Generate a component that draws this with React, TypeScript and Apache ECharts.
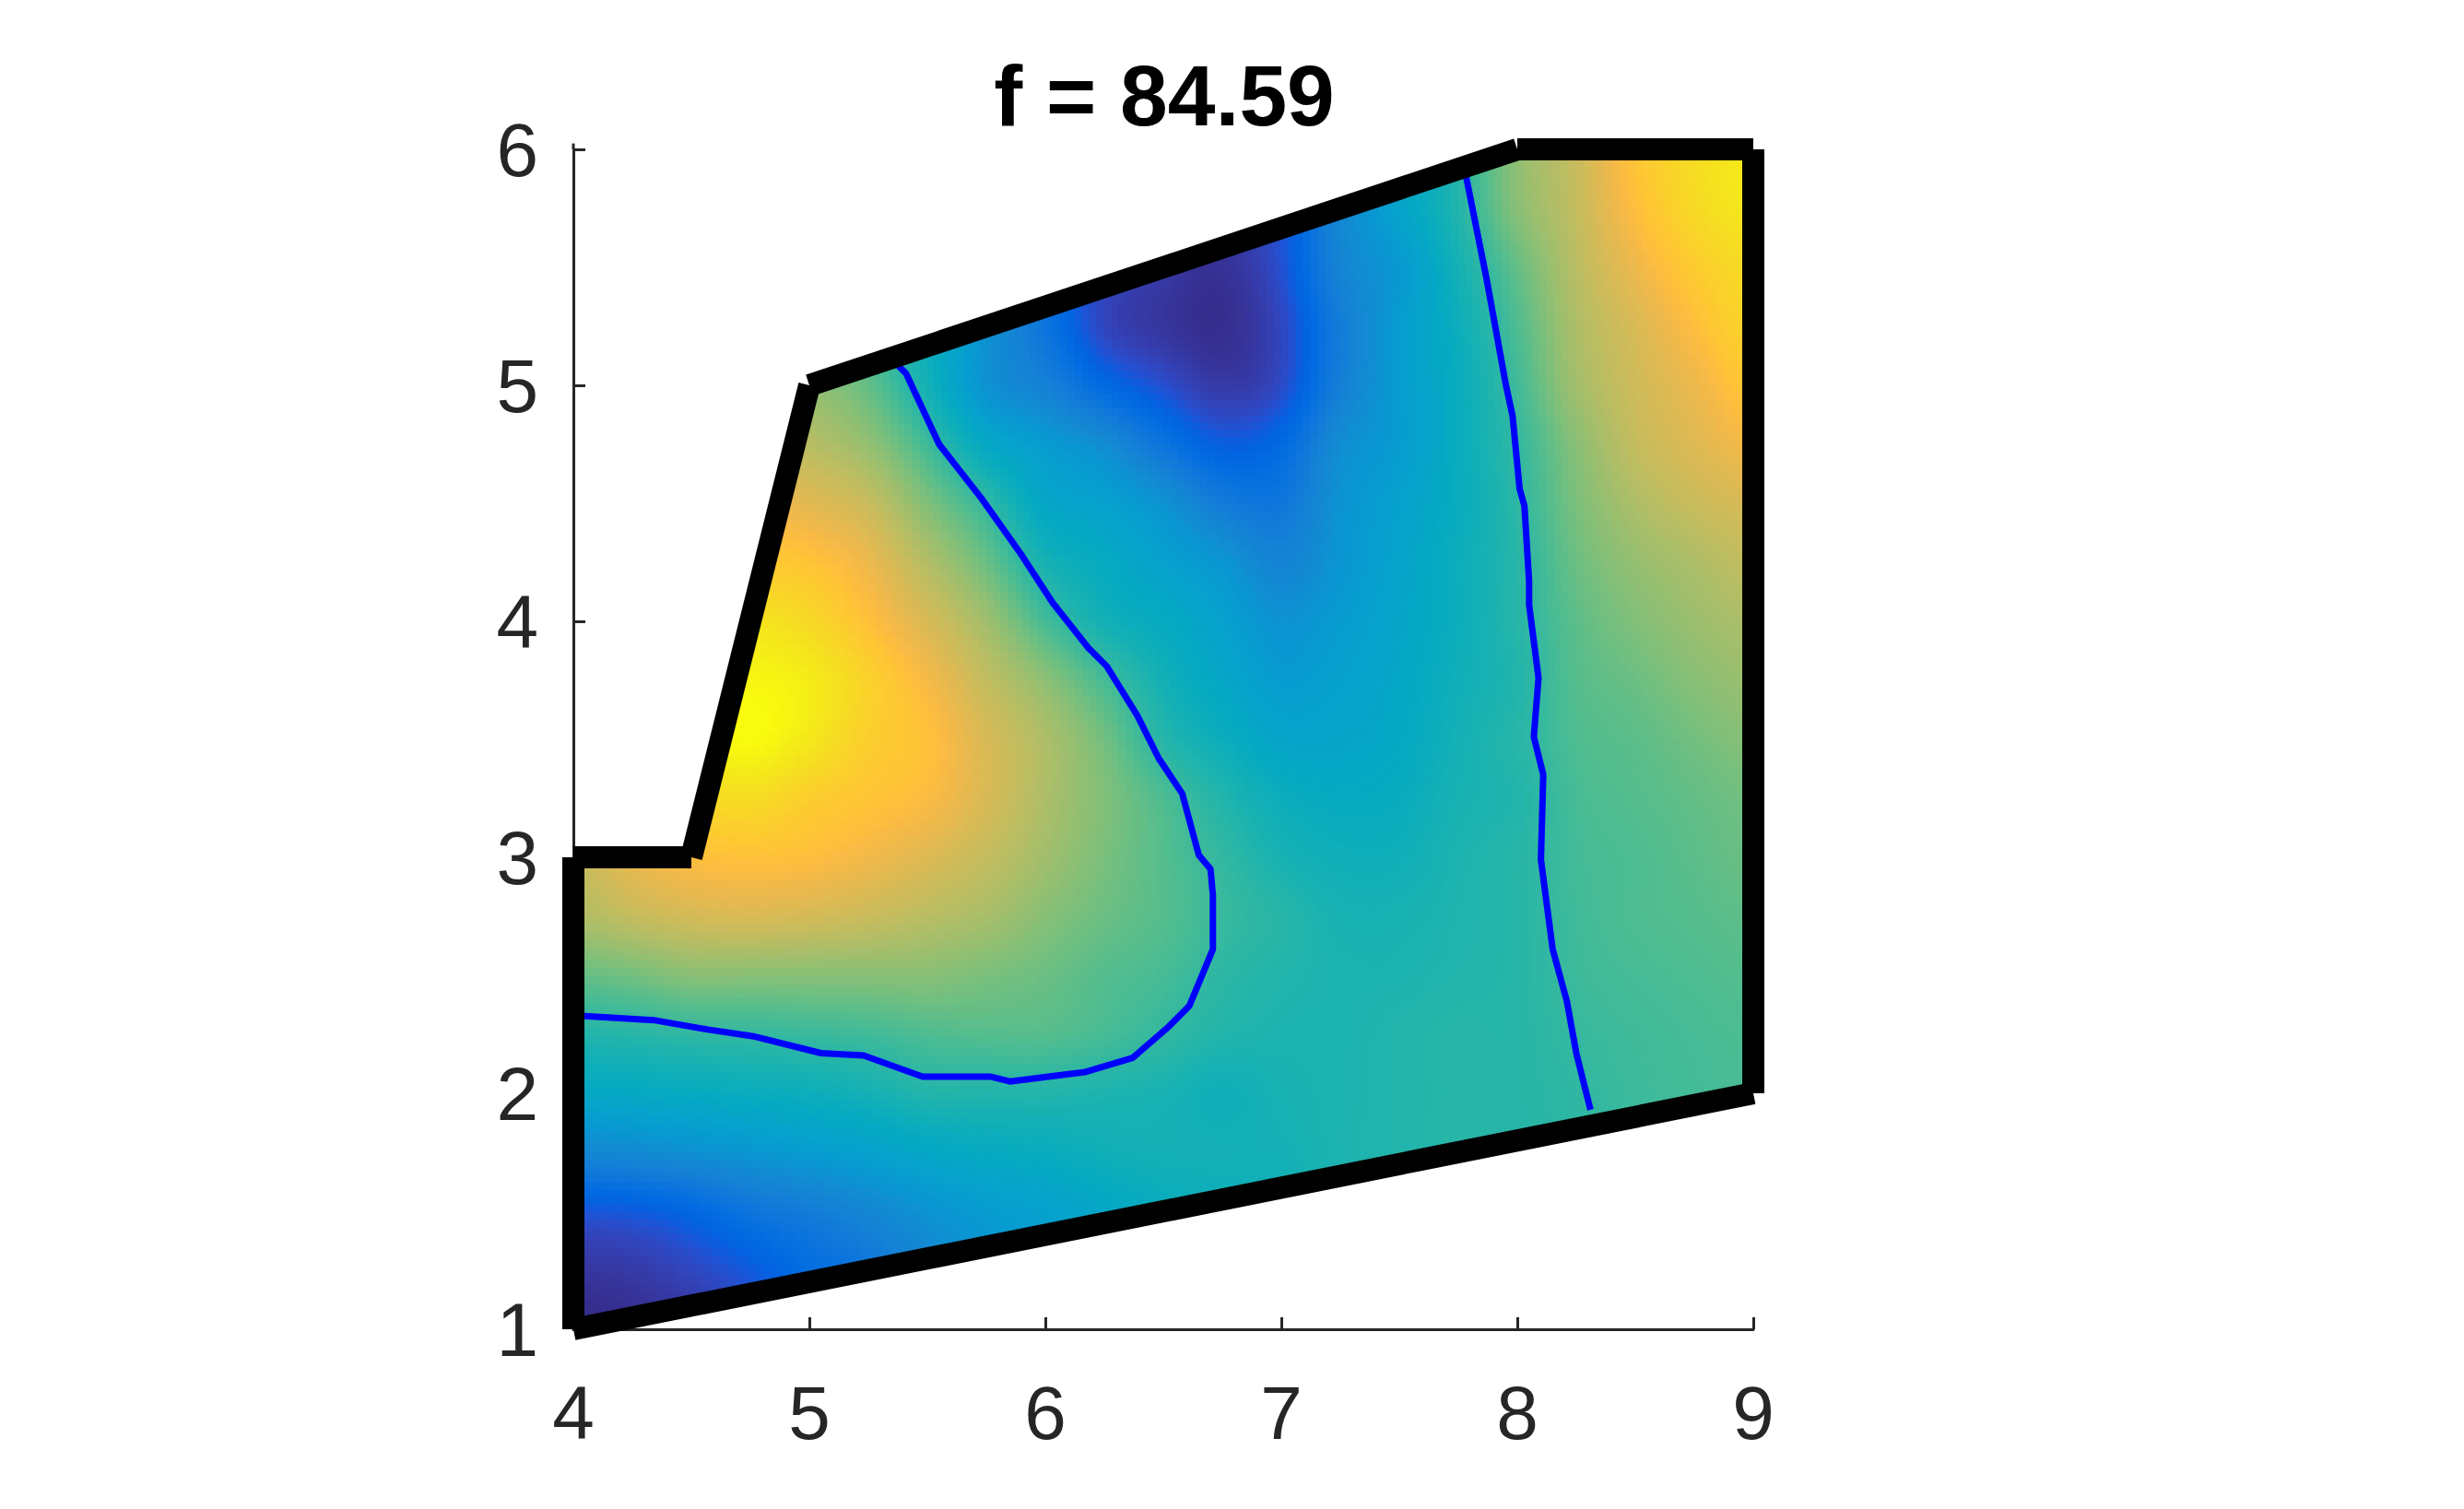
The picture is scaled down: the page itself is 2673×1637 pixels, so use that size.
import React, { useEffect, useRef } from "react";
import * as echarts from "echarts";

const xTicks = [4, 5, 6, 7, 8, 9];
const yTicks = [1, 2, 3, 4, 5, 6];
const titleText = "f = 84.59";
const gridX = [4, 4.25, 4.5, 4.75, 5, 5.25, 5.5, 5.75, 6, 6.25, 6.5, 6.75, 7, 7.25, 7.5, 7.75, 8, 8.25, 8.5, 8.75, 9];
// rows from y = 1 (first) to y = 6 (last), step 0.25; field position on the colour scale
const fieldRows = [
  [0,.01,.03,.08,.14,.2,.26,.31,.33,.36,.39,.41,.42,.43,.45,.46,.47,.48,.49,.5,.52],
  [.03,.04,.07,.11,.16,.2,.26,.31,.33,.36,.39,.41,.42,.43,.45,.46,.47,.48,.49,.5,.52],
  [.1,.11,.14,.19,.22,.26,.3,.33,.35,.38,.41,.42,.43,.45,.46,.47,.48,.49,.5,.51,.52],
  [.26,.27,.29,.31,.33,.35,.38,.4,.41,.43,.44,.44,.44,.46,.47,.48,.48,.49,.5,.51,.52],
  [.38,.39,.4,.41,.42,.44,.47,.47,.47,.46,.45,.43,.45,.46,.47,.48,.48,.495,.515,.525,.535],
  [.47,.48,.495,.5,.51,.52,.54,.55,.55,.53,.5,.47,.46,.46,.47,.48,.48,.505,.52,.53,.54],
  [.57,.59,.62,.62,.62,.62,.62,.6,.58,.55,.53,.49,.47,.46,.46,.47,.48,.515,.53,.54,.55],
  [.68,.72,.75,.76,.75,.73,.7,.67,.62,.58,.55,.51,.48,.45,.45,.465,.48,.52,.54,.55,.565],
  [.73,.8,.84,.85,.84,.81,.77,.72,.66,.6,.55,.5,.45,.43,.43,.46,.48,.525,.54,.56,.58],
  [.85,.9,.92,.93,.89,.86,.83,.76,.68,.61,.54,.47,.42,.4,.41,.45,.47,.53,.55,.57,.59],
  [.9,.93,.97,1,.96,.89,.85,.76,.68,.59,.48,.42,.37,.37,.39,.44,.48,.54,.56,.59,.62],
  [.9,.93,.97,.99,.97,.9,.82,.72,.63,.53,.44,.38,.33,.35,.38,.43,.47,.55,.58,.62,.65],
  [.9,.9,.93,.95,.92,.85,.76,.66,.53,.44,.4,.35,.3,.33,.37,.42,.48,.56,.61,.65,.68],
  [.9,.9,.9,.88,.86,.8,.69,.58,.45,.4,.35,.31,.25,.31,.36,.42,.48,.58,.64,.68,.72],
  [.85,.85,.85,.82,.78,.73,.61,.5,.38,.35,.3,.22,.2,.3,.35,.41,.49,.6,.68,.73,.76],
  [.8,.8,.78,.74,.7,.64,.52,.39,.33,.28,.19,.12,.15,.28,.33,.41,.5,.62,.72,.77,.82],
  [.75,.75,.72,.68,.64,.57,.44,.3,.24,.15,.09,.04,.08,.23,.33,.41,.52,.66,.74,.8,.87],
  [.7,.7,.7,.68,.62,.52,.42,.3,.19,.07,.03,.01,.07,.22,.33,.42,.54,.68,.76,.84,.91],
  [.7,.7,.7,.68,.6,.5,.4,.3,.18,.08,.04,.02,.09,.25,.32,.44,.57,.7,.8,.88,.93],
  [.7,.7,.7,.68,.6,.5,.4,.3,.2,.1,.05,.05,.1,.26,.36,.47,.62,.72,.84,.92,.96],
  [.7,.7,.7,.68,.6,.5,.4,.3,.2,.1,.05,.05,.1,.25,.35,.47,.63,.73,.86,.93,.97],
];
const gridY = [1, 1.25, 1.5, 1.75, 2, 2.25, 2.5, 2.75, 3, 3.25, 3.5, 3.75, 4, 4.25, 4.5, 4.75, 5, 5.25, 5.5, 5.75, 6];
const boundary = [[4, 1], [9, 2], [9, 6], [8, 6], [5, 5], [4.5, 3], [4, 3]];
const contourLeft = [[4,2.33],[4.34,2.31],[4.57,2.27],[4.77,2.24],[5.05,2.17],[5.23,2.16],[5.48,2.07],[5.77,2.07],[5.85,2.05],[6.09,2.08],[6.17,2.09],[6.37,2.15],[6.52,2.28],[6.61,2.37],[6.71,2.61],[6.71,2.84],[6.7,2.95],[6.65,3.01],[6.58,3.27],[6.48,3.42],[6.39,3.6],[6.26,3.81],[6.18,3.89],[6.03,4.08],[5.9,4.28],[5.73,4.52],[5.55,4.75],[5.41,5.05],[5.36,5.1]];
const contourRight = [[7.78,5.9],[7.87,5.45],[7.95,5.01],[7.98,4.87],[8.01,4.56],[8.03,4.49],[8.05,4.17],[8.05,4.07],[8.09,3.76],[8.07,3.51],[8.11,3.35],[8.1,2.99],[8.15,2.61],[8.21,2.39],[8.25,2.17],[8.31,1.93]];
const parula = [[.2081,.1663,.5292],[.2116,.1898,.5777],[.2123,.2138,.627],[.2081,.2386,.6771],[.1959,.2645,.7279],[.1707,.2919,.7792],[.1253,.3242,.8303],[.0591,.3598,.8683],[.0117,.3875,.882],[.006,.4086,.8828],[.0165,.4266,.8786],[.0329,.443,.872],[.0498,.4586,.8641],[.0629,.4737,.8554],[.0723,.4887,.8467],[.0779,.504,.8384],[.0793,.52,.8312],[.0749,.5375,.8263],[.0641,.557,.824],[.0488,.5772,.8228],[.0343,.5966,.8199],[.0265,.6137,.8135],[.0239,.6287,.8038],[.0231,.6418,.7913],[.0228,.6535,.7768],[.0267,.6642,.7607],[.0384,.6743,.7436],[.059,.6838,.7254],[.0843,.6928,.7062],[.1133,.7015,.6859],[.1453,.7098,.6646],[.1801,.7177,.6424],[.2178,.725,.6193],[.2586,.7317,.5954],[.3022,.7376,.5712],[.3482,.7424,.5473],[.3953,.7459,.5244],[.442,.7481,.5033],[.4871,.7491,.484],[.53,.7491,.4661],[.5709,.7485,.4494],[.6099,.7473,.4337],[.6473,.7456,.4188],[.6834,.7435,.4044],[.7184,.7411,.3905],[.7525,.7384,.3768],[.7858,.7356,.3633],[.8185,.7327,.3498],[.8507,.7299,.336],[.8824,.7274,.3217],[.9139,.7258,.3063],[.945,.7261,.2886],[.9739,.7314,.2666],[.9938,.7455,.2403],[.999,.7653,.2164],[.9955,.7861,.1967],[.988,.8066,.1794],[.9789,.8271,.1633],[.9697,.8481,.1475],[.9626,.8705,.1309],[.9589,.8949,.1132],[.9598,.9218,.0948],[.9661,.9514,.0755],[.9763,.9831,.0538]];

const SUB = 8;
const clipParts = [
  [boundary[0], boundary[1], boundary[2], boundary[3], boundary[4], boundary[5]],
  [boundary[0], boundary[5], boundary[6]],
];

function colorAt(v: number) {
  const t = Math.max(0, Math.min(1, v)) * (parula.length - 1);
  const i = Math.min(parula.length - 2, Math.floor(t));
  const f = t - i;
  const c = parula[i].map((a, k) => Math.round((a + (parula[i + 1][k] - a) * f) * 255));
  return `rgb(${c[0]},${c[1]},${c[2]})`;
}
function cr(p0: number, p1: number, p2: number, p3: number, t: number) {
  return 0.5 * (2 * p1 + (p2 - p0) * t + (2 * p0 - 5 * p1 + 4 * p2 - p3) * t * t + (3 * p1 - p0 - 3 * p2 + p3) * t * t * t);
}
function field(i: number, j: number, u: number, w: number) {
  const n = gridX.length - 1;
  const m = gridY.length - 1;
  const row = (r: number) => {
    const a = fieldRows[Math.max(0, Math.min(m, r))];
    return cr(a[Math.max(0, i - 1)], a[i], a[Math.min(n, i + 1)], a[Math.min(n, i + 2)], u);
  };
  return cr(row(j - 1), row(j), row(j + 1), row(j + 2), w);
}
function clipConvex(poly: number[][], clip: number[][]) {
  let out = poly;
  for (let e = 0; e < clip.length && out.length; e++) {
    const a = clip[e];
    const b = clip[(e + 1) % clip.length];
    const side = (p: number[]) => (b[0] - a[0]) * (p[1] - a[1]) - (b[1] - a[1]) * (p[0] - a[0]);
    const next: number[][] = [];
    for (let k = 0; k < out.length; k++) {
      const p = out[k];
      const q = out[(k + 1) % out.length];
      const sp = side(p);
      const sq = side(q);
      if (sp >= 0) next.push(p);
      if (sp >= 0 !== sq >= 0) {
        const t = sp / (sp - sq);
        next.push([p[0] + (q[0] - p[0]) * t, p[1] + (q[1] - p[1]) * t]);
      }
    }
    out = next;
  }
  return out;
}

function renderCell(params: any, api: any) {
  const i = api.value(0);
  const j = api.value(1);
  const children: any[] = [];
  const dx = (gridX[i + 1] - gridX[i]) / SUB;
  const dy = (gridY[j + 1] - gridY[j]) / SUB;
  for (let a = 0; a < SUB; a++) {
    for (let b = 0; b < SUB; b++) {
      const x0 = gridX[i] + a * dx;
      const y0 = gridY[j] + b * dy;
      const square = [[x0, y0], [x0 + dx, y0], [x0 + dx, y0 + dy], [x0, y0 + dy]];
      const color = colorAt(field(i, j, (a + 0.5) / SUB, (b + 0.5) / SUB));
      for (const part of clipParts) {
        const poly = clipConvex(square, part);
        if (poly.length >= 3) {
          children.push({
            type: "polygon",
            shape: { points: poly.map((p) => api.coord(p)) },
            style: { fill: color, stroke: color, lineWidth: 1 },
          });
        }
      }
    }
  }
  return { type: "group", children };
}

const cellData: number[][] = [];
for (let i = 0; i < gridX.length - 1; i++) {
  for (let j = 0; j < gridY.length - 1; j++) cellData.push([i, j]);
}

const LABEL = { color: "#262626", fontSize: 82, fontFamily: "Liberation Sans, Helvetica, Arial, sans-serif" };

export default function App() {
  const ref = useRef<HTMLDivElement>(null);
  useEffect(() => {
    const chart = echarts.init(ref.current!, null, { renderer: "svg" });
    const segs = boundary.map((p, k) => ({
      type: "line",
      data: [p, boundary[(k + 1) % boundary.length]],
      showSymbol: false,
      clip: false,
      silent: true,
      z: 6,
      lineStyle: { color: "#000", width: 24, cap: "butt" },
    }));
    chart.setOption({
      animation: false,
      title: {
        text: titleText,
        left: 1258,
        top: 52,
        textAlign: "center",
        textStyle: { color: "#000", fontSize: 93, fontWeight: "bold", fontFamily: "Liberation Sans, Helvetica, Arial, sans-serif" },
      },
      grid: { left: 622, top: 162, width: 1280, height: 1280, containLabel: false },
      xAxis: {
        type: "value", min: 4, max: 9, interval: 1, splitLine: { show: false },
        axisLine: { show: true, lineStyle: { color: "#262626", width: 3 } },
        axisTick: { show: true, inside: true, length: 13, lineStyle: { color: "#262626", width: 3 } },
        axisLabel: { ...LABEL, margin: 49, formatter: (v: number) => (xTicks.includes(v) ? String(v) : "") },
      },
      yAxis: {
        type: "value", min: 1, max: 6, interval: 1, splitLine: { show: false },
        axisLine: { show: true, lineStyle: { color: "#262626", width: 3 } },
        axisTick: { show: true, inside: true, length: 13, lineStyle: { color: "#262626", width: 3 } },
        axisLabel: { ...LABEL, margin: 38, formatter: (v: number) => (yTicks.includes(v) ? String(v) : "") },
      },
      series: [
        { type: "custom", data: cellData, encode: { x: 0, y: 1 }, renderItem: renderCell, silent: true, clip: false, z: 3 },
        { type: "line", data: contourLeft, showSymbol: false, clip: false, silent: true, z: 5, lineStyle: { color: "#0000ff", width: 7 } },
        { type: "line", data: contourRight, showSymbol: false, clip: false, silent: true, z: 5, lineStyle: { color: "#0000ff", width: 7 } },
        ...segs,
        { type: "line", data: [[4, 6], [4, 6.025]], showSymbol: false, clip: false, silent: true, z: 1, lineStyle: { color: "#262626", width: 3 } },
      ],
    });
    return () => chart.dispose();
  }, []);
  return <div ref={ref} style={{ position: "absolute", left: 0, top: 0, width: 2673, height: 1637, background: "#fff" }} />;
}
